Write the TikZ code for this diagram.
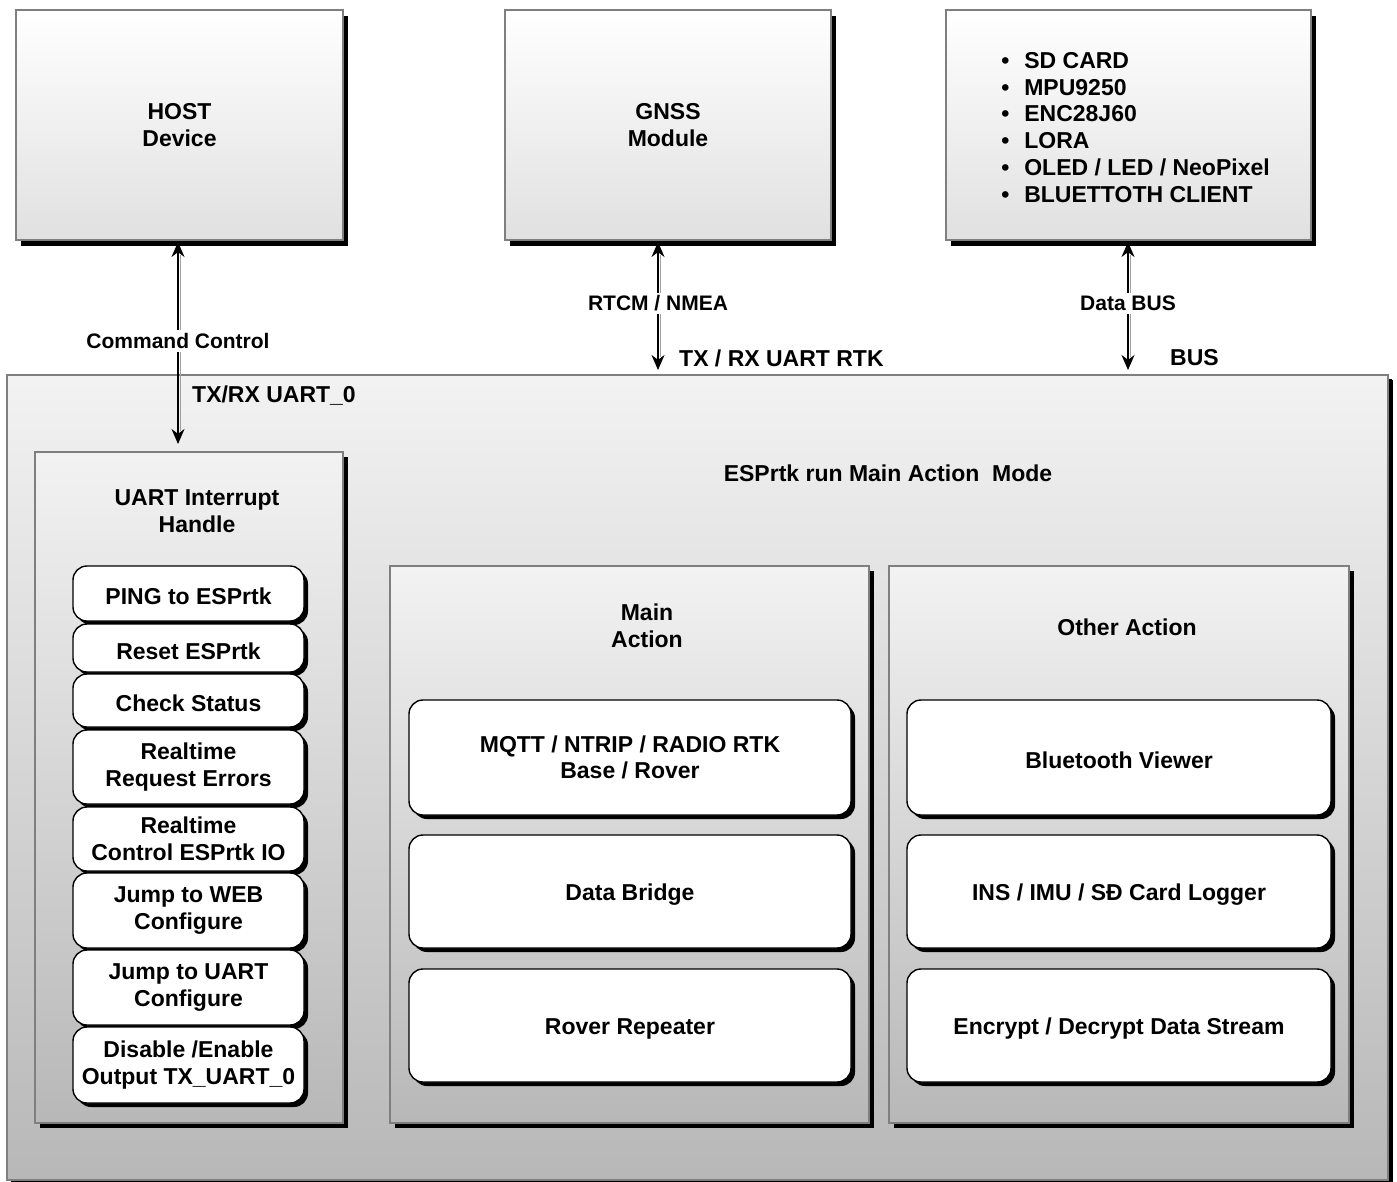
\documentclass[tikz,border=0pt]{standalone}
\usepackage{fontspec}
\setmainfont{Liberation Sans}
\usetikzlibrary{shadows,arrows.meta}

\definecolor{edgegray}{HTML}{7F7F7F}
\definecolor{linkgray}{HTML}{A0A0A0}

\tikzset{
  devbox/.style={draw=edgegray, line width=1.3pt, top color=white, bottom color=black!12,
    minimum width=#1, minimum height=230pt, align=center, inner sep=0pt,
    font=\fontsize{23}{26.5}\selectfont\bfseries, execute at begin node={\rule{0pt}{23pt}},
    drop shadow={shadow xshift=5pt, shadow yshift=-6pt, opacity=1, fill=black}},
  panel/.style={draw=edgegray, line width=1.3pt, top color=black!5, bottom color=black!28,
    inner sep=0pt, drop shadow={shadow xshift=5pt, shadow yshift=-5pt, opacity=1, fill=black}},
  itembox/.style={draw=black, line width=1.4pt, fill=white, rounded corners=14pt,
    align=center, inner sep=0pt, font=\fontsize{23}{26.5}\selectfont\bfseries,
    execute at begin node={\rule{0pt}{23pt}},
    drop shadow={shadow xshift=4pt, shadow yshift=-4pt, opacity=1, fill=black}},
  title/.style={align=center, inner sep=1pt, font=\fontsize{23}{26.5}\selectfont\bfseries},
  tag/.style={inner sep=1pt, font=\fontsize{23}{26.5}\selectfont\bfseries},
  linklabel/.style={fill=white, inner sep=3pt, font=\fontsize{21}{24}\selectfont\bfseries},
  link/.style={{Stealth[length=15pt,width=13pt]}-{Stealth[length=15pt,width=13pt]}, line width=1.3pt,
    preaction={draw=linkgray, line width=1.3pt, -, shorten <=13pt, shorten >=13pt,
      transform canvas={xshift=2.5pt}}}
}

\begin{document}
\begin{tikzpicture}[x=1pt, y=-1pt]
\useasboundingbox (0,0) rectangle (1397,1182);

% outside devices
\node[devbox=327pt] (host) at (179.5,125) {HOST\\Device};
\node[devbox=326pt] (gnss) at (668,125) {GNSS\\Module};
\node[devbox=365pt] (periph) at (1128.5,125) {%
  \fontsize{23}{26.7}\selectfont
  \hspace{14pt}\raisebox{0pt}[\dimexpr\height+10pt][\depth]{\begin{tabular}{@{}l@{\hspace{15pt}}l@{}}
  \textbullet & SD CARD\\
  \textbullet & MPU9250\\
  \textbullet & ENC28J60\\
  \textbullet & LORA\\
  \textbullet & OLED / LED / NeoPixel\\
  \textbullet & BLUETTOTH CLIENT
  \end{tabular}}};

% ESPrtk board
\node[panel, minimum width=1381pt, minimum height=805pt, drop shadow={shadow xshift=4pt, shadow yshift=-4pt, opacity=1, fill=black}] (esp) at (697.5,777.5) {};
\node[title] (esptitle) at (888,473) {ESPrtk run Main Action\ \ Mode};

\node[panel, minimum width=308pt, minimum height=671pt] (uart) at (189,787.5) {};
\node[title] (uarttitle) at (197,511) {UART Interrupt\\Handle};

\node[panel, minimum width=479pt, minimum height=557pt] (mainact) at (629.5,844.5) {};
\node[title] (maintitle) at (647,626) {Main\\Action};

\node[panel, minimum width=460pt, minimum height=557pt] (otheract) at (1119,844.5) {};
\node[title] (othertitle) at (1127,627) {Other Action};

% uart commands
\node[itembox, minimum width=231pt, minimum height=55pt] (ping) at (188.5,593.5) {PING to ESPrtk};
\node[itembox, minimum width=231pt, minimum height=48pt] (reset) at (188.5,648) {Reset ESPrtk};
\node[itembox, minimum width=231pt, minimum height=53pt] (status) at (188.5,700.5) {Check Status};
\node[itembox, minimum width=231pt, minimum height=74pt] (errors) at (188.5,767) {Realtime\\Request Errors};
\node[itembox, minimum width=231pt, minimum height=64pt] (ioctl) at (188.5,839) {Realtime\\Control ESPrtk IO};
\node[itembox, minimum width=231pt, minimum height=75pt] (webcfg) at (188.5,910.5) {Jump to WEB\\Configure};
\node[itembox, minimum width=231pt, minimum height=75pt] (uartcfg) at (188.5,987.5) {Jump to UART\\Configure};
\node[itembox, minimum width=231pt, minimum height=76pt] (txout) at (188.5,1065) {Disable /Enable\\Output TX\_UART\_0};

% main actions
\node[itembox, minimum width=442pt, minimum height=115pt] (rtk) at (630,757.5) {MQTT / NTRIP / RADIO RTK\\Base / Rover};
\node[itembox, minimum width=442pt, minimum height=113pt] (bridge) at (630,891.5) {Data Bridge};
\node[itembox, minimum width=442pt, minimum height=113pt] (repeater) at (630,1025.5) {Rover Repeater};

% other actions
\node[itembox, minimum width=424pt, minimum height=115pt] (btview) at (1119,757.5) {Bluetooth Viewer};
\node[itembox, minimum width=424pt, minimum height=113pt] (logger) at (1119,891.5) {INS / IMU / SĐ Card Logger};
\node[itembox, minimum width=424pt, minimum height=113pt] (crypt) at (1119,1025.5) {Encrypt / Decrypt Data Stream};

% links
\coordinate (hosttop) at (178,242);
\coordinate (hostend) at (178,444);
\coordinate (gnsstop) at (658,242);
\coordinate (gnssend) at (658,370);
\coordinate (periphtop) at (1128,242);
\coordinate (periphend) at (1128,370);

\draw[link] (hosttop) -- node[linklabel, pos=0.49] (cmdlabel) {Command Control} (hostend);
\draw[link] (gnsstop) -- node[linklabel, pos=0.48] (rtcmlabel) {RTCM / NMEA} (gnssend);
\draw[link] (periphtop) -- node[linklabel, pos=0.48] (buslabel) {Data BUS} (periphend);

\node[tag, anchor=west] (uart0tag) at (191,396) {TX/RX UART\_0};
\node[tag, anchor=west] (rtktag) at (678,358) {TX / RX UART RTK};
\node[tag, anchor=west] (bustag) at (1169,358) {BUS};
\end{tikzpicture}
\end{document}
